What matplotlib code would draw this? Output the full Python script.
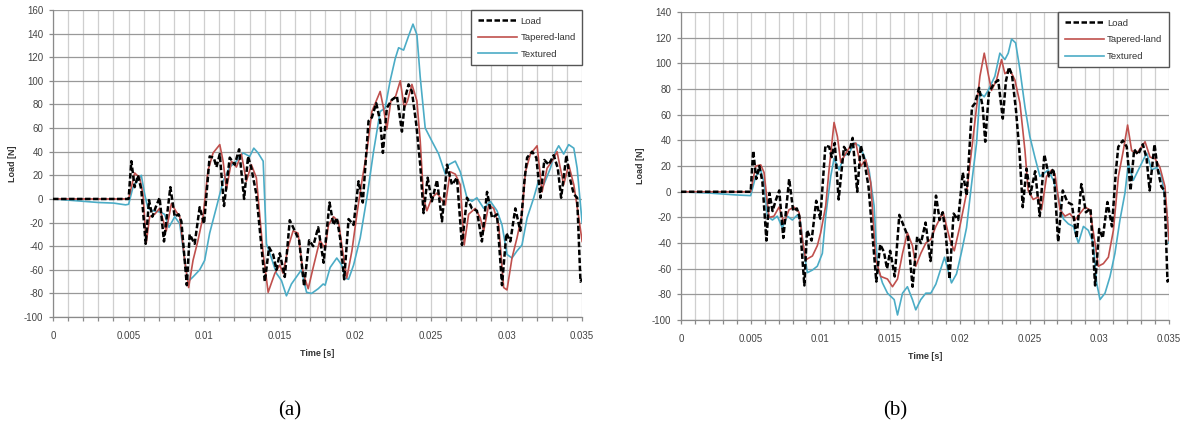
import numpy as np
import matplotlib
matplotlib.use("Agg")
from matplotlib import pyplot as plt
from matplotlib.ticker import MultipleLocator

plt.rcParams['font.family'] = ['Liberation Sans', 'DejaVu Sans']
plt.rcParams['axes.unicode_minus'] = False

# time values in ms, plotted in s
load_ms = [0, 5.0, 5.18, 5.40, 5.62, 5.84, 6.13, 6.35, 6.57, 6.79, 7.05, 7.34, 7.76, 8.05, 8.31, 8.49,
           8.85, 9.04, 9.37, 9.70, 9.99, 10.36, 10.63, 10.81, 11.03, 11.31, 11.69, 12.02, 12.31, 12.64,
           12.90, 13.12, 13.45, 14.01, 14.29, 14.56, 14.78, 15.0, 15.33, 15.66, 15.99, 16.28, 16.61,
           16.94, 17.21, 17.54, 17.90, 18.29, 18.55, 18.77, 18.99, 19.26, 19.55, 19.88, 20.21, 20.49,
           20.87, 21.09, 21.38, 21.64, 21.82, 22.08, 22.42, 22.75, 23.08, 23.30, 23.52, 23.74, 24.03,
           24.29, 24.51, 24.78, 25.06, 25.40, 25.73, 26.06, 26.39, 26.72, 27.05, 27.38, 27.71, 28.04,
           28.37, 28.71, 29.04, 29.37, 29.70, 29.99, 30.25, 30.58, 30.91, 31.18, 31.36, 31.69, 31.97,
           32.24, 32.50, 32.79, 33.12, 33.39, 33.61, 33.96, 34.18, 34.45, 34.67, 34.89, 35.0]
load_val = [0, 0, 32, 10, 20, 8, -38, -1, -15, -7, 1, -36, 10, -15, -13, -19,
            -73, -30, -38, -7, -21, 36, 35, 27, 38, -6, 35, 29, 42, 0,
            36, 26, 4, -70, -41, -47, -60, -46, -66, -18, -27, -35, -74,
            -35, -40, -24, -54, -3, -22, -16, -33, -68, -17, -22, 15, -3,
            66, 69, 81, 66, 39, 77, 84, 87, 57, 86, 97, 91, 63,
            29, -12, 18, -2, 16, -19, 29, 12, 18, -39, 1, -8, -10,
            -36, 6, -16, -13, -73, -29, -36, -8, -27, 15, 35, 40, 35,
            1, 33, 29, 37, 26, 1, 37, 18, 4, 1, -70, -68]

# (a) Tapered-land
red_a_ms = [0, 5.0, 5.40, 5.73, 5.95, 6.17, 6.39, 6.72, 7.05, 7.49, 7.83, 8.16, 8.38, 8.71, 8.97,
            9.26, 9.59, 9.92, 10.25, 10.59, 11.03, 11.25, 11.47, 11.80, 12.13, 12.46, 12.79, 13.12,
            13.45, 13.90, 14.23, 14.67, 15.0, 15.22, 15.55, 15.88, 16.21, 16.55, 16.88, 17.21, 17.65,
            18.0, 18.22, 18.55, 18.88, 19.1, 19.43, 19.77, 20.10, 20.43, 20.76, 21.09, 21.64, 21.86,
            22.08, 22.35, 22.64, 22.97, 23.23, 23.45, 23.74, 24.07, 24.29, 24.51, 24.73, 25.06, 25.40,
            25.95, 26.28, 26.61, 26.94, 27.20, 27.49, 27.93, 28.26, 28.49, 28.82, 29.15, 29.48, 29.81,
            30.03, 30.36, 30.69, 31.02, 31.25, 31.58, 32.02, 32.35, 32.68, 33.01, 33.34, 33.78, 34.11,
            34.45, 34.78, 35.0]
red_a_val = [0, 0, 22, 18, 4, -37, -15, -13, -8, -27, -4, -11, -15, -52, -75,
             -52, -35, -15, 24, 39, 46, 32, 8, 32, 27, 38, 15, 29,
             18, -46, -79, -63, -56, -63, -41, -27, -29, -63, -76, -58, -35,
             -42, -22, -15, -19, -39, -67, -44, -13, 15, 40, 74, 91, 77,
             59, 83, 86, 100, 77, 83, 97, 83, 49, 1, -10, 1, 5,
             -5, 23, 21, 12, -39, -13, -8, -16, -27, -5, -8, -22, -75,
             -77, -50, -33, -13, 23, 38, 45, 6, 26, 32, 40, 12, 29,
             12, -16, -36]

# (a) Textured
blue_a_ms = [0, 1, 2, 3, 4, 4.8, 5.0, 5.29, 5.84, 6.06, 6.28, 6.61, 7.05, 7.38, 7.67, 8.05, 8.38,
             8.71, 8.93, 9.26, 9.70, 10.03, 10.36, 10.81, 11.25, 11.69, 12.13, 12.57, 13.01, 13.28,
             13.56, 13.90, 14.12, 14.34, 14.78, 15.11, 15.44, 15.77, 16.10, 16.43, 16.77, 17.10, 17.54,
             17.87, 18.0, 18.33, 18.77, 19.10, 19.32, 19.55, 19.88, 20.32, 20.76, 21.20, 21.64, 21.97,
             22.30, 22.64, 22.86, 23.19, 23.52, 23.81, 24.07, 24.29, 24.62, 25.06, 25.51, 25.95, 26.17,
             26.61, 26.94, 27.38, 27.71, 28.04, 28.49, 28.93, 29.37, 29.70, 30.03, 30.36, 30.69, 31.02,
             31.36, 31.80, 32.13, 32.46, 32.90, 33.23, 33.45, 33.78, 34.11, 34.45, 34.67, 34.89, 35.0]
blue_a_val = [0, -1, -2, -3, -3.5, -5, -4.5, 10, 20, 4, -8, -10, -11, -13, -24, -15, -21,
              -52, -70, -66, -60, -52, -29, -7, 15, 27, 32, 39, 36, 43,
              39, 32, -38, -46, -63, -69, -82, -72, -66, -60, -79, -80, -76,
              -72, -73, -58, -50, -56, -67, -68, -56, -33, 1, 40, 74, 77,
              100, 119, 128, 126, 138, 148, 139, 103, 60, 49, 38, 21, 29,
              32, 23, 1, -2, 1, -8, -2, -10, -22, -47, -50, -44, -39,
              -16, 1, 16, 12, 26, 40, 45, 38, 46, 43, 26, -5, -20]

# (b) Tapered-land
red_b_ms = [0, 5.0, 5.36, 5.72, 5.96, 6.20, 6.32, 6.67, 7.03, 7.39, 7.75, 8.11, 8.47, 8.71, 8.95,
            9.43, 9.78, 10.02, 10.38, 10.62, 10.98, 11.22, 11.46, 11.82, 12.18, 12.54, 12.89, 13.25,
            13.61, 13.97, 14.33, 14.81, 15.17, 15.53, 15.89, 16.24, 16.60, 16.84, 17.20, 17.56, 17.92,
            18.28, 18.8, 19.3, 19.6, 20.0, 20.48, 20.84, 21.20, 21.44, 21.75, 22.03, 22.27, 22.63,
            22.99, 23.23, 23.59, 23.95, 24.31, 24.67, 24.90, 25.26, 25.62, 25.86, 26.22, 26.58, 26.82,
            27.18, 27.54, 27.89, 28.25, 28.61, 28.97, 29.33, 29.69, 29.93, 30.29, 30.65, 31.01, 31.37,
            31.72, 32.03, 32.32, 32.68, 33.04, 33.28, 33.64, 33.99, 34.35, 34.71, 35.0]
red_b_val = [0, 0, 20, 21, 15, -9, -20, -19, -12, -24, -14, -12, -16, -37, -53,
             -50, -42, -32, -11, 17, 54, 43, 23, 30, 36, 38, 20, 25,
             7, -53, -66, -68, -74, -68, -48, -32, -42, -58, -48, -40, -37,
             -27, -16, -38, -46, -27, -1, 32, 66, 90, 108, 92, 79, 87,
             103, 92, 95, 87, 69, 32, 1, -6, -4, -14, 12, 17, 14,
             -14, -19, -17, -22, -17, -12, -14, -40, -58, -56, -51, -30, 12,
             32, 52, 32, 30, 35, 39, 27, 26, 19, 4, -38]

# (b) Textured
blue_b_ms = [0, 2, 4, 5.0, 5.36, 5.72, 5.96, 6.20, 6.56, 6.91, 7.27, 7.63, 7.99, 8.35, 8.59, 8.83,
             9.07, 9.43, 9.78, 10.14, 10.38, 10.74, 10.98, 11.34, 11.70, 12.06, 12.42, 12.78, 13.13,
             13.49, 13.85, 14.09, 14.45, 14.81, 15.29, 15.53, 15.89, 16.24, 16.60, 16.84, 17.20, 17.56,
             17.92, 18.28, 18.9, 19.4, 19.76, 20.12, 20.48, 20.84, 21.20, 21.44, 21.75, 22.03, 22.51,
             22.87, 23.23, 23.47, 23.71, 24.0, 24.31, 24.67, 25.02, 25.38, 25.74, 25.98, 26.34, 26.70,
             27.06, 27.42, 27.78, 28.14, 28.50, 28.86, 29.21, 29.57, 29.81, 30.05, 30.41, 30.77, 31.12,
             31.48, 31.84, 32.08, 32.44, 32.80, 33.16, 33.40, 33.76, 34.12, 34.47, 34.83, 35.0]
blue_b_val = [0, -1, -2.5, -3, 12, 17, 7, -19, -22, -19, -28, -19, -22, -18, -24, -48,
              -63, -61, -58, -48, -19, 12, 26, 17, 28, 30, 38, 36, 28,
              17, -11, -58, -71, -79, -84, -96, -79, -74, -84, -92, -84, -79,
              -79, -72, -51, -71, -64, -47, -28, 6, 38, 77, 74, 79, 90,
              108, 103, 108, 119, 116, 95, 66, 43, 27, 12, 14, 17, 9,
              -4, -21, -25, -27, -40, -27, -30, -40, -71, -84, -79, -66, -48,
              -22, -1, 22, 9, 17, 25, 30, 17, 19, 12, -14, -40]

xtick_vals = [0, 0.005, 0.01, 0.015, 0.02, 0.025, 0.03, 0.035]
xtick_labels = ['0', '0.005', '0.01', '0.015', '0.02', '0.025', '0.03', '0.035']

RED = '#C0504D'
BLUE = '#4BACC6'


def draw(ax, red_ms, red_val, blue_ms, blue_val, ymin, ymax):
    ax.plot(np.array(load_ms) / 1000, load_val, color='black', lw=1.8,
            linestyle=(0, (2.2, 1.0)), label='Load', zorder=4)
    ax.plot(np.array(red_ms) / 1000, red_val, color=RED, lw=1.2, label='Tapered-land', zorder=3)
    ax.plot(np.array(blue_ms) / 1000, blue_val, color=BLUE, lw=1.2, label='Textured', zorder=2)

    ax.set_xlim(0, 0.035)
    ax.set_ylim(ymin, ymax)
    ax.set_xticks(xtick_vals)
    ax.set_xticklabels(xtick_labels)
    ax.xaxis.set_minor_locator(MultipleLocator(0.001))
    ax.yaxis.set_major_locator(MultipleLocator(20))
    ax.grid(which='minor', axis='x', color='#cfcfcf', lw=0.9)
    ax.grid(which='major', axis='x', color='#cfcfcf', lw=0.9)
    ax.grid(which='major', axis='y', color='#999999', lw=0.9)
    ax.set_axisbelow(True)
    for s in ['top', 'right']:
        ax.spines[s].set_visible(False)
    for s in ['left', 'bottom']:
        ax.spines[s].set_color('#8a8a8a')
        ax.spines[s].set_linewidth(0.9)
    ax.tick_params(axis='both', which='both', colors='#8a8a8a', labelcolor='#444444',
                   labelsize=7, length=3, width=0.9)
    ax.tick_params(axis='x', which='major', pad=7)
    ax.tick_params(axis='y', which='major', pad=4)
    ax.set_xlabel('Time [s]', fontsize=6.5, fontweight='bold', color='#333333', labelpad=6)
    ax.set_ylabel('Load [N]', fontsize=6.5, fontweight='bold', color='#333333', labelpad=5)

    leg = ax.legend(loc='upper right', bbox_to_anchor=(1.0, 1.0), borderaxespad=0,
                    fontsize=6.8, handlelength=4.2, handletextpad=0.3, labelspacing=0.8,
                    fancybox=False, framealpha=1, edgecolor='#555555', borderpad=0.7)
    leg.get_frame().set_linewidth(1.0)
    for t in leg.get_texts():
        t.set_color('#333333')


fig = plt.figure(figsize=(11.89, 4.32), dpi=100)
ax1 = fig.add_axes([0.0446, 0.266, 0.445, 0.711])
ax2 = fig.add_axes([0.5727, 0.259, 0.4105, 0.713])

draw(ax1, red_a_ms, red_a_val, blue_a_ms, blue_a_val, -100, 160)
draw(ax2, red_b_ms, red_b_val, blue_b_ms, blue_b_val, -100, 140)

fig.text(0.244, 0.05, '(a)', fontsize=15, family='Liberation Serif', ha='center', va='center')
fig.text(0.753, 0.05, '(b)', fontsize=15, family='Liberation Serif', ha='center', va='center')

fig.savefig('out.png', dpi=100)
